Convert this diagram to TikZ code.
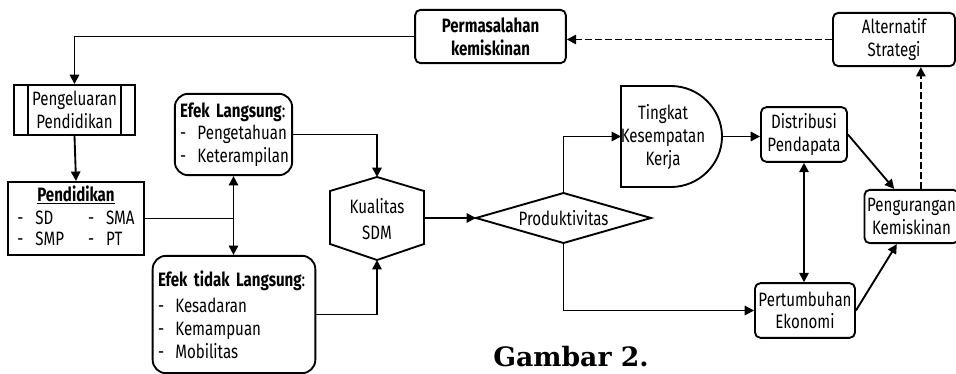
\documentclass[tikz,border=0pt]{standalone}
\usepackage{fontspec}
\setmainfont{Fira Sans}[FakeStretch=0.78]
\newfontfamily\gambarfont{DejaVu Serif}
\usetikzlibrary{arrows.meta}

\begin{document}
\begin{tikzpicture}[x=0.75pt,y=-0.75pt,line width=1.4pt,
		box/.style={draw,rounded corners=4pt,align=center,inner sep=2pt,font=\fontsize{14.5}{17}\selectfont},
		boldbox/.style={box,font=\fontsize{14.5}{17}\selectfont\bfseries},
		efek/.style={draw,rounded corners=10pt,align=left,inner xsep=4pt,font=\fontsize{14.5}{17}\selectfont},
		txt/.style={align=center,inner sep=0pt,font=\fontsize{14.5}{17}\selectfont},
		arr/.style={-{Triangle[length=7pt,width=7pt]}},
		darr/.style={{Triangle[length=7pt,width=7pt]}-{Triangle[length=7pt,width=7pt]}},
		dline/.style={dash pattern=on 5pt off 2.5pt}]
		\fill[white] (0,0) rectangle (956,374);
		\useasboundingbox (0,0) rectangle (956,374);

		\node[boldbox,minimum width=113pt,minimum height=40pt] (masalah) at (490.5,36.5) {Permasalahan\\kemiskinan};
		\node[box,minimum width=91.5pt,minimum height=40pt] (alt) at (894,39.5) {Alternatif\\Strategi};

		\node[box,rounded corners=0pt,minimum width=91pt,minimum height=37.5pt] (keluar) at (74.5,110) {Pengeluaran\\Pendidikan};
		\draw ([xshift= 11.25pt]keluar.north west) -- ([xshift= 11.25pt]keluar.south west);
		\draw ([xshift=-11.25pt]keluar.north east) -- ([xshift=-11.25pt]keluar.south east);

		\node[box,rounded corners=0pt,minimum width=102pt,minimum height=55pt] (didik) at (76,218.5)
			{\renewcommand\arraystretch{0.9}%
			\begin{tabular}{@{}l@{\hspace{9pt}}l@{\hspace{18pt}}l@{\hspace{9pt}}l@{}}
				\multicolumn{4}{c}{\bfseries\underline{Pendidikan}}\\[2pt]
				- & SD  & - & SMA\\
				- & SMP & - & PT
			\end{tabular}};

		\node[efek,text width=80pt,minimum height=61pt] (langsung) at (233.5,134.5)
			{\textbf{Efek Langsung}:\\\makebox[13pt][l]{-}Pengetahuan\\\makebox[13pt][l]{-}Keterampilan};
		\node[efek,text width=114pt,minimum height=88pt] (tdklangsung) at (234,314.5)
			{\textbf{Efek tidak Langsung}:\\[3pt]\makebox[13pt][l]{-}Kesadaran\\\makebox[13pt][l]{-}Kemampuan\\\makebox[13pt][l]{-}Mobilitas};

		\draw (377,177) -- (424,191) -- (424,244) -- (377,260) -- (330,244) -- (330,191) -- cycle;
		\node[txt] (kualitas) at (377,219) {Kualitas\\[2pt]SDM};
		\coordinate (kualT) at (377,177);
		\coordinate (kualB) at (377,260);
		\coordinate (kualR) at (424,218);

		\draw (476,218) -- (563.5,193) -- (651,218) -- (563.5,243) -- cycle;
		\node[txt] (prod) at (563.5,218) {Produktivitas};
		\coordinate (prodL) at (476,218);
		\coordinate (prodT) at (563.5,193);
		\coordinate (prodB) at (563.5,243);

		\draw (621,86) -- (671,86) .. controls (699,86) and (722,109) .. (722,136.5)
			.. controls (722,164) and (699,187) .. (671,187) -- (621,187) -- cycle;
		\node[txt] (tingkat) at (663,137) {Tingkat\\Kesempatan\\Kerja};
		\coordinate (tingW) at (621,136.5);
		\coordinate (tingE) at (722,136.5);

		\node[box,minimum width=64.5pt,minimum height=41pt] (distribusi) at (804,134.5) {Distribusi\\Pendapata};
		\node[box,minimum width=75pt,minimum height=41pt] (tumbuh) at (805,310.5) {Pertumbuhan\\Ekonomi};
		\node[box,minimum width=65pt,minimum height=40pt] (kurang) at (911.5,216.5) {Pengurangan\\Kemiskinan};

		\node[font=\gambarfont\bfseries\fontsize{20}{24}\selectfont] (gambar) at (571,357) {Gambar 2.};

		\draw[arr] (masalah.west) -| (keluar.north);
		\draw[arr,dline] (alt.west) -- (alt.west -| masalah.east);
		\draw[arr] (keluar.south) -- (didik.north);
		\coordinate (cabang) at (langsung.south |- didik.east);
		\draw (didik.east) -- (cabang);
		\draw[arr] (cabang) -- (langsung.south);
		\draw[arr] (cabang) -- (cabang |- tdklangsung.north);
		\draw[arr] (langsung.east) -| (kualT);
		\draw[arr] (tdklangsung.east) -| (kualB);
		\draw[arr] (kualR) -- (prodL);
		\draw[arr] (prodT) |- (tingW);
		\draw[arr] (tingE) -- (tingE -| distribusi.west);
		\draw[darr] (distribusi.south) -- (distribusi.south |- tumbuh.north);
		\draw[arr] (prodB) |- (tumbuh.west);
		\draw[arr] (distribusi.east) -- ([xshift=-13pt]kurang.north);
		\draw[arr] (tumbuh.east) -- ([xshift=-11pt]kurang.south);
		\draw[arr,dline] ([xshift=7pt]kurang.north) -- ([xshift=7pt]kurang.north |- alt.south);
	\end{tikzpicture}
\end{document}
